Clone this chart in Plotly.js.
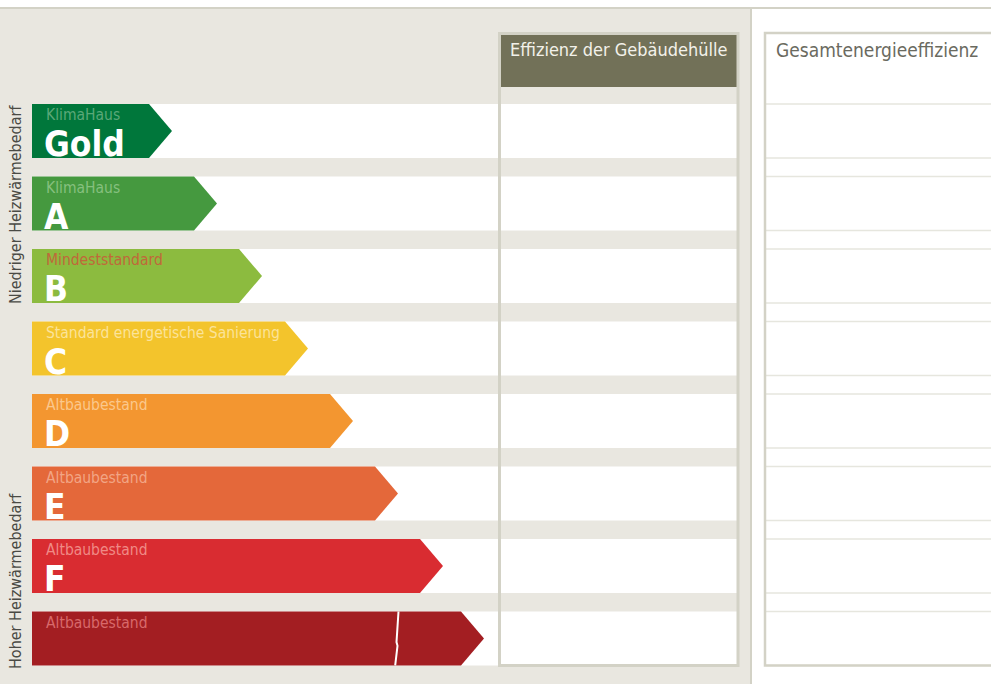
<!DOCTYPE html>
<html>
<head>
<meta charset="utf-8">
<script src="https://cdn.plot.ly/plotly-3.0.1.min.js"></script>
<style>
  html, body { margin: 0; padding: 0; background: #ffffff; }
  #chart { width: 991px; height: 684px; }
</style>
</head>
<body>
<div id="chart"></div>
<script>
// ---- data ----
const classes   = ['Gold', 'A', 'B', 'C', 'D', 'E', 'F', 'G'];
const letters   = ['Gold', 'A', 'B', 'C', 'D', 'E', 'F', ''];
const subtitles = ['KlimaHaus', 'KlimaHaus', 'Mindeststandard', 'Standard energetische Sanierung',
                   'Altbaubestand', 'Altbaubestand', 'Altbaubestand', 'Altbaubestand'];
const barTip    = [172, 217, 262, 308, 353, 398, 443, 484];
const barColors = ['#00773b', '#45993f', '#8cbb3f', '#f3c42c', '#f39630', '#e4683a', '#d92c31', '#a31e22'];
const subColors = ['#5aa878', '#86c07e', '#c0683a', '#fbe39a', '#fbc88c', '#f2a585', '#f08a86', '#d8696a'];
const breakRow  = 7;
const breakX    = 397;
const axisLow   = 'Niedriger Heizwärmebedarf';
const axisHigh  = 'Hoher Heizwärmebedarf';
const header1   = 'Effizienz der Gebäudehülle';
const header2   = 'Gesamtenergieeffizienz';

// ---- geometry / style ----
const W = 991, H = 684;
const barStart = 32, tipDepth = 23, half = 0.372;
const FONT = '"Liberation Sans Narrow", "DejaVu Sans Condensed", "DejaVu Sans", sans-serif';
const beige = '#e9e7e0', border = '#d3d2c6';
const px = x => x / W, py = y => 1 - y / H;

const traces = [];
classes.forEach((c, i) => {
  const tip = barTip[i];
  traces.push({
    type: 'scatter', mode: 'lines', fill: 'toself',
    x: [barStart, tip - tipDepth, tip, tip - tipDepth, barStart, barStart],
    y: [i - half, i - half, i, i + half, i + half, i - half],
    fillcolor: barColors[i], line: { width: 0, color: barColors[i] },
    hoverinfo: 'text', text: c, showlegend: false
  });
});

const shapes = [];
// panel backgrounds
shapes.push({ type: 'rect', xref: 'paper', yref: 'paper', x0: 0, x1: px(751), y0: 0, y1: py(8), fillcolor: beige, line: { width: 0 }, layer: 'below' });
shapes.push({ type: 'line', xref: 'paper', yref: 'paper', x0: 0, x1: 1, y0: py(8), y1: py(8), line: { color: border, width: 2 }, layer: 'below' });
shapes.push({ type: 'line', xref: 'paper', yref: 'paper', x0: px(751), x1: px(751), y0: 0, y1: py(8), line: { color: border, width: 2 }, layer: 'below' });
// white row stripes (left panel)
classes.forEach((c, i) => {
  shapes.push({ type: 'rect', xref: 'x', yref: 'y', x0: barStart, x1: 738, y0: i - half, y1: i + half, fillcolor: '#ffffff', line: { width: 0 }, layer: 'below' });
  // thin row lines (right panel)
  [i - half, i + half].forEach(v => {
    shapes.push({ type: 'line', xref: 'x', yref: 'y', x0: 766, x1: 995, y0: v, y1: v, line: { color: '#e6e6de', width: 1.5 }, layer: 'below' });
  });
});
// left box header + border
shapes.push({ type: 'rect', xref: 'paper', yref: 'paper', x0: px(500), x1: px(737), y0: py(87), y1: py(34), fillcolor: '#727158', line: { width: 0 }, layer: 'below' });
shapes.push({ type: 'rect', xref: 'paper', yref: 'paper', x0: px(499.5), x1: px(738), y0: py(665.5), y1: py(33.5), fillcolor: 'rgba(0,0,0,0)', line: { color: border, width: 3 } });
// right box border
shapes.push({ type: 'rect', xref: 'paper', yref: 'paper', x0: px(765), x1: px(1000), y0: py(665.5), y1: py(33), fillcolor: 'rgba(0,0,0,0)', line: { color: border, width: 2.5 } });
// crack in last bar
const r = breakRow;
shapes.push({ type: 'path', xref: 'x', yref: 'y',
  path: `M ${breakX + 1.5},${r - half} L ${breakX - 0.5},${r + 0.05} L ${breakX + 0.5},${r + 0.1} L ${breakX - 1.8},${r + half}`,
  line: { color: '#ffffff', width: 2 } });

const annotations = [];
classes.forEach((c, i) => {
  annotations.push({ x: 45, y: i - half + 0.02, xref: 'x', yref: 'y', xanchor: 'left', yanchor: 'top',
    text: subtitles[i], showarrow: false, font: { family: FONT, size: 15.5, color: subColors[i] }, borderpad: 0 });
  if (letters[i]) {
    annotations.push({ x: 43, y: i + half + 0.1, xref: 'x', yref: 'y', xanchor: 'left', yanchor: 'bottom',
      text: '<b>' + letters[i] + '</b>', showarrow: false, font: { family: FONT, size: 35, color: '#ffffff' }, borderpad: 0 });
  }
});
annotations.push({ x: px(15), y: py(205), xref: 'paper', yref: 'paper', xanchor: 'center', yanchor: 'middle',
  text: axisLow, textangle: -90, showarrow: false, font: { family: FONT, size: 16, color: '#4a4a44' } });
annotations.push({ x: px(15), y: py(581), xref: 'paper', yref: 'paper', xanchor: 'center', yanchor: 'middle',
  text: axisHigh, textangle: -90, showarrow: false, font: { family: FONT, size: 16, color: '#4a4a44' } });
annotations.push({ x: px(619), y: py(50), xref: 'paper', yref: 'paper', xanchor: 'center', yanchor: 'middle',
  text: header1, showarrow: false, font: { family: FONT, size: 18, color: '#f2f1ea' } });
annotations.push({ x: px(774), y: py(50), xref: 'paper', yref: 'paper', xanchor: 'left', yanchor: 'middle',
  text: header2, showarrow: false, font: { family: FONT, size: 19, color: '#6a6a60' } });

// y axis: row index, 72.5 px pitch, row 0 centred at 131 px
const pitch = 72.5, y0px = 131;
const layout = {
  width: W, height: H,
  margin: { l: 0, r: 0, t: 0, b: 0, pad: 0 },
  paper_bgcolor: '#ffffff', plot_bgcolor: 'rgba(0,0,0,0)',
  xaxis: { range: [0, W], visible: false, fixedrange: true },
  yaxis: { range: [(H - y0px) / pitch, -y0px / pitch], visible: false, fixedrange: true },
  shapes: shapes, annotations: annotations, showlegend: false
};
Plotly.newPlot('chart', traces, layout, { staticPlot: true });
</script>
</body>
</html>
